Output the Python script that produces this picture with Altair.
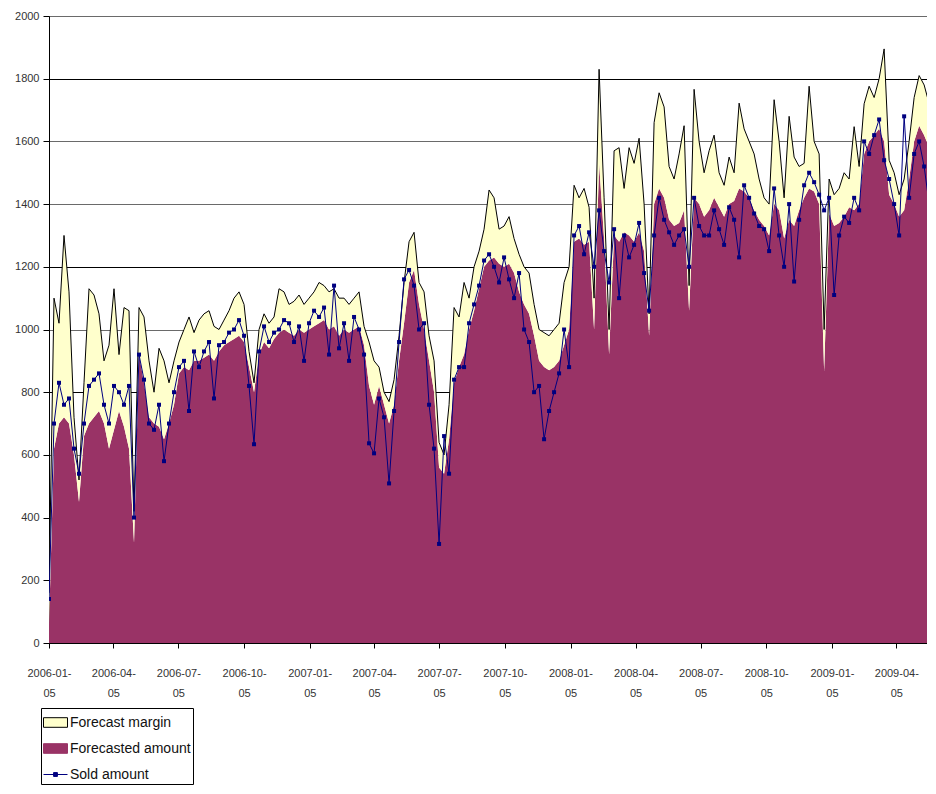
import altair as alt
import pandas as pd

# ---- data (weekly samples starting 2006-01-05) ----
start_date = "2006-01-05"

forecast = [
    60, 620, 700, 720, 700, 600, 450, 660, 700, 720,
    740, 700, 620, 680, 740, 690, 620, 320, 920, 830,
    720, 700, 690, 650, 700, 760, 860, 880, 870, 900,
    900, 910, 920, 900, 930, 950, 960, 970, 980, 960,
    880, 800, 920, 960, 940, 970, 990, 1000, 990, 980,
    1000, 990, 1000, 1010, 1020, 1030, 1000, 1010, 980, 1000,
    990, 1000, 1010, 950, 820, 760, 820, 760, 700, 760,
    900, 1020, 1150, 1190, 1080, 1000, 900, 800, 560, 540,
    650, 830, 880, 920, 1000, 1060, 1130, 1200, 1220, 1230,
    1210, 1200, 1210, 1180, 1120, 1080, 1050, 980, 900, 880,
    870, 880, 900, 950, 1000, 1280, 1290, 1270, 1280, 1000,
    1530, 1290, 920, 1300, 1280, 1310, 1300, 1280, 1310, 1250,
    980, 1400, 1450, 1420, 1350, 1330, 1340, 1380, 1060, 1420,
    1400, 1360, 1380, 1420, 1390, 1360, 1400, 1410, 1450, 1440,
    1420, 1380, 1350, 1330, 1300, 1400, 1380, 1290, 1350, 1330,
    1380, 1420, 1450, 1440, 1400, 868, 1370, 1330, 1340, 1360,
    1390, 1380, 1400, 1560, 1600, 1620, 1640, 1600, 1430, 1400,
    1360, 1380, 1480, 1600, 1650, 1620, 1580,
]

margin = [
    100, 480, 320, 580, 420, 120, 70, 170, 430, 390,
    310, 200, 330, 450, 180, 380, 440, 100, 150, 210,
    180, 100, 250, 250, 130, 140, 100, 120, 170, 90,
    130, 140, 140, 110, 70, 80, 100, 130, 140, 120,
    50, 30, 80, 90, 80, 70, 140, 120, 90, 110,
    110, 90, 100, 110, 130, 110, 120, 120, 120, 100,
    90, 100, 110, 60, 140, 140, 60, 40, 70, 80,
    80, 130, 130, 120, 70, 120, 80, 100, 80, 60,
    110, 240, 160, 230, 100, 140, 120, 120, 225, 190,
    110, 130, 150, 110, 120, 120, 130, 100, 100, 110,
    110, 120, 120, 200, 200, 180, 130, 180, 110, 100,
    300, 130, 80, 270, 300, 140, 280, 250, 300, 150,
    70, 260, 305, 290, 170, 150, 220, 270, 80, 346,
    200, 140, 190, 200, 110, 100, 150, 90, 272, 200,
    180, 180, 130, 90, 100, 333, 220, 130, 330, 220,
    140, 110, 326, 160, 160, 132, 110, 100, 110, 140,
    90, 267, 120, 160, 176, 120, 160, 295, 110, 100,
    70, 100, 120, 140, 160, 160, 140,
]

sold = [
    140, 700, 830, 760, 780, 620, 540, 700, 820, 840,
    860, 760, 700, 820, 800, 760, 820, 400, 920, 840,
    700, 680, 760, 580, 700, 800, 880, 900, 740, 930,
    880, 930, 960, 780, 950, 960, 990, 1000, 1030, 980,
    820, 634, 930, 1010, 960, 990, 1000, 1030, 1020, 960,
    1010, 900, 1020, 1060, 1040, 1070, 920, 1140, 940, 1020,
    900, 1040, 1000, 920, 637, 605, 780, 720, 509, 740,
    960, 1160, 1190, 1140, 1000, 1020, 760, 620, 316, 660,
    540, 840, 880, 880, 1020, 1080, 1140, 1220, 1240, 1200,
    1150, 1230, 1160, 1100, 1180, 1000, 960, 800, 820, 650,
    740, 800, 860, 1000, 880, 1300, 1330, 1240, 1310, 1200,
    1380, 1250, 1150, 1320, 1100, 1300, 1230, 1270, 1340, 1180,
    1060, 1300, 1420, 1350, 1310, 1270, 1300, 1320, 1200, 1420,
    1330, 1300, 1300, 1380, 1320, 1270, 1390, 1350, 1230, 1460,
    1420, 1370, 1330, 1320, 1250, 1450, 1300, 1200, 1400, 1153,
    1350, 1460, 1500, 1470, 1430, 1380, 1420, 1110, 1300, 1360,
    1340, 1420, 1380, 1600, 1560, 1620, 1670, 1540, 1480, 1400,
    1300, 1680, 1420, 1560, 1600, 1520, 1400,
]

series_names = ["Forecast margin", "Forecasted amount", "Sold amount"]
series_fill = ["#FFFFCC", "#993366", "#000080"]
series_stroke = ["#000000", "#993366", "#000080"]

tick_dates = [(y, m) for y in (2006, 2007, 2008) for m in (1, 4, 7, 10)] + [(2009, 1), (2009, 4)]
y_ticks = list(range(0, 2001, 200))

# ---- build tables ----
dates = pd.date_range(start_date, periods=len(forecast), freq="7D").strftime("%Y-%m-%d").tolist()
df = pd.DataFrame({"date": dates, "forecast": forecast, "margin": margin, "sold": sold})
leg_df = pd.DataFrame({"series": series_names})

FONT = "Liberation Sans"

x_enc = alt.X(
    "date:T",
    scale=alt.Scale(
        type="utc",
        domain=[alt.DateTime(year=2006, month=1, date=5, utc=True),
                alt.DateTime(year=2009, month=5, date=18, utc=True)],
    ),
    axis=alt.Axis(
        title=None,
        values=[alt.DateTime(year=y, month=m, date=5, utc=True) for y, m in tick_dates],
        labelExpr="[utcFormat(datum.value, '%Y-%m-'), utcFormat(datum.value, '%d')]",
        grid=False,
        tickSize=5,
        tickColor="#000000",
        domainColor="#000000",
        labelFont=FONT,
        labelFontSize=11,
        labelColor="#333333",
        labelPadding=19,
        labelLineHeight=20,
        labelOverlap=False,
        labelFlush=False,
        labelAngle=0,
    ),
)

y_scale = alt.Scale(domain=[0, 2000], nice=False, zero=True)
y_axis = alt.Axis(
    title=None,
    values=y_ticks,
    format="d",
    tickSize=6,
    tickColor="#000000",
    domainColor="#000000",
    labelFont=FONT,
    labelFontSize=11,
    labelColor="#333333",
    labelPadding=4,
    grid=True,
    gridColor={
        "condition": {"test": "datum.value == 1800 || datum.value == 1200 || datum.value == 800",
                      "value": "#000000"},
        "value": "#6a6a6a",
    },
    gridWidth=1,
)

base = alt.Chart(df).transform_calculate(top="datum.forecast + datum.margin")

forecast_area = base.mark_area(color="#993366", clip=True, interpolate="linear").encode(
    x=x_enc,
    y=alt.Y("forecast:Q", scale=y_scale, axis=y_axis),
)

margin_area = base.mark_area(color="#FFFFCC", clip=True, interpolate="linear").encode(
    x="date:T",
    y="forecast:Q",
    y2="top:Q",
)

margin_edge = base.mark_line(color="#000000", strokeWidth=1, clip=True).encode(
    x="date:T",
    y="top:Q",
)

sold_line = base.mark_line(
    color="#000080",
    strokeWidth=1,
    clip=True,
    point=alt.OverlayMarkDef(shape="square", size=16, filled=True, color="#000080"),
).encode(
    x="date:T",
    y="sold:Q",
)

legend_props = dict(title=None, labelFont=FONT, labelFontSize=14, labelColor="#111111")

legend_layer = alt.Chart(leg_df).mark_point(opacity=0, filled=True).encode(
    fill=alt.Fill("series:N", scale=alt.Scale(domain=series_names, range=series_fill),
                  legend=alt.Legend(**legend_props)),
    stroke=alt.Stroke("series:N", scale=alt.Scale(domain=series_names, range=series_stroke),
                      legend=alt.Legend(**legend_props)),
    shape=alt.Shape("series:N",
                    scale=alt.Scale(domain=series_names,
                                    range=["M-1,-0.4H1V0.4H-1Z",
                                           "M-1,-0.4H1V0.4H-1Z",
                                           "M-1,0H1M-0.16,-0.16H0.16V0.16H-0.16Z"]),
                    legend=alt.Legend(**legend_props)),
)

chart = alt.layer(
    forecast_area, margin_area, margin_edge, sold_line, legend_layer
).properties(
    width=878,
    height=627,
    padding={"left": 6, "top": 2, "right": 0, "bottom": 0},
).configure_view(
    fill="#C0C0C0",
    stroke="#8c8c8c",
).configure_legend(
    orient="none",
    legendX=-8,
    legendY=692,
    strokeColor="#000000",
    fillColor="#FFFFFF",
    padding=2,
    symbolSize=576,
    symbolStrokeWidth=1,
    symbolOpacity=1,
    labelFont=FONT,
    labelFontSize=14,
    labelColor="#111111",
    labelOffset=2,
    rowPadding=6,
    cornerRadius=0,
)

chart.save("out.html", embed_options={"renderer": "svg", "actions": False})
